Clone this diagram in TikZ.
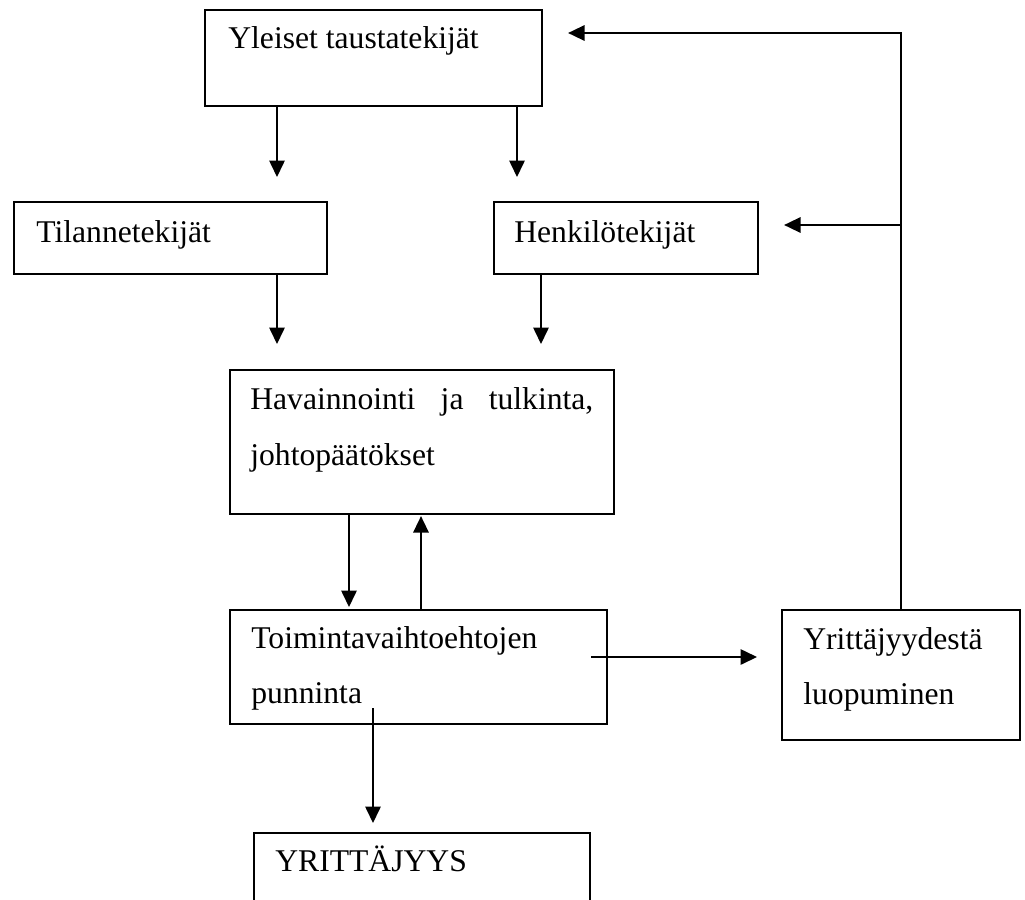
\documentclass[tikz,border=0pt]{standalone}
\usepackage{fontspec}
\setmainfont{Liberation Serif}
\usetikzlibrary{arrows.meta,calc}

\begin{document}
\begin{tikzpicture}[
    box/.style={draw, line width=1.2pt, inner sep=0pt, anchor=north west},
    lbl/.style={inner sep=0pt, anchor=base west, font=\fontsize{18}{22}\selectfont},
    arr/.style={line width=0.9pt, -{Triangle[length=3.3mm,width=3.1mm]}}
  ]
  %%%%% START %%%%%
  \useasboundingbox (0,0) rectangle (20.5,-17.98);
  \clip (0,0) rectangle (20.5,-17.98);

  % boxes
  \node[box, minimum width=6.74cm, minimum height=1.92cm] (yl) at (4.08,-0.18) {};
  \node[box, minimum width=6.26cm, minimum height=1.44cm] (til) at (0.26,-4.02) {};
  \node[box, minimum width=5.28cm, minimum height=1.44cm] (hen) at (9.86,-4.02) {};
  \node[box, minimum width=7.68cm, minimum height=2.88cm] (hav) at (4.58,-7.38) {};
  \node[box, minimum width=7.54cm, minimum height=2.28cm] (toi) at (4.58,-12.18) {};
  \node[box, minimum width=4.76cm, minimum height=2.60cm] (luo) at (15.62,-12.18) {};
  \node[box, minimum width=6.72cm, minimum height=2.40cm] (yr) at (5.06,-16.64) {};

  % texts
  \node[lbl] (ylt) at (4.56,-0.96) {Yleiset taustatekijät};
  \node[lbl] (tilt) at (0.72,-4.84) {Tilannetekijät};
  \node[lbl] (hent) at (10.28,-4.84) {Henkilötekijät};
  \node[lbl] (hava) at (5.00,-8.18) {\makebox[6.86cm][s]{Havainnointi ja tulkinta,}};
  \node[lbl] (havb) at (5.00,-9.30) {johtopäätökset};
  \node[lbl] (toia) at (5.02,-12.96) {Toimintavaihtoehtojen};
  \node[lbl] (toib) at (5.02,-14.06) {punninta};
  \node[lbl] (luoa) at (16.06,-12.98) {Yrittäjyydestä};
  \node[lbl] (luob) at (16.06,-14.08) {luopuminen};
  \node[lbl] (yrt) at (5.50,-17.42) {YRITTÄJYYS};

  % arrows
  \draw[arr, shorten >=0.48cm] ($(yl.south west)+(1.46,0)$) -- ($(til.north west)+(5.28,0)$);
  \draw[arr, shorten >=0.48cm] ($(yl.south west)+(6.26,0)$) -- ($(hen.north west)+(0.48,0)$);
  \draw[arr, shorten >=0.50cm] ($(til.south west)+(5.28,0)$) -- ($(hav.north west)+(0.96,0)$);
  \draw[arr, shorten >=0.50cm] ($(hen.south west)+(0.96,0)$) -- ($(hav.north west)+(6.24,0)$);
  \draw[arr, shorten >=0.04cm] ($(hav.south west)+(2.40,0)$) -- ($(toi.north west)+(2.40,0)$);
  \draw[arr, shorten >=0.02cm] ($(toi.north west)+(3.84,0)$) -- ($(hav.south west)+(3.84,0)$);
  \draw[arr, shorten >=0.48cm] ($(toi.north east)+(-0.34,-0.96)$) -- ($(luo.north west)+(0,-0.96)$);
  \draw[arr, shorten >=0.18cm] ($(toi.south west)+(2.88,0.34)$) -- ($(yr.north west)+(2.40,0)$);

  % feedback
  \coordinate (yb) at ($(yl.north east)+(0,-0.48)$);
  \coordinate (hb) at ($(hen.north east)+(0,-0.48)$);
  \draw[arr, shorten >=0.50cm] (luo.north) |- (yb);
  \draw[arr, shorten >=0.50cm] (hb -| luo.north) -- (hb);
  %%%%% END %%%%%
\end{tikzpicture}
\end{document}
